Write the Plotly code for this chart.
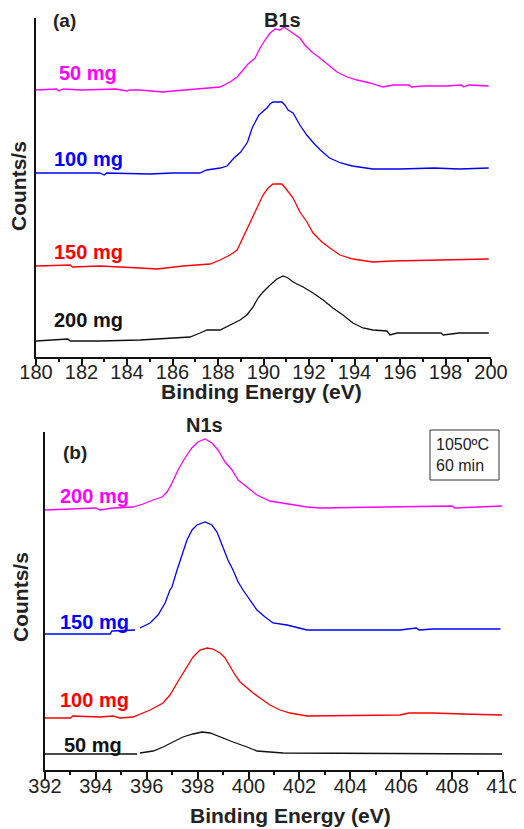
import plotly.graph_objects as go

W, H = 524, 829
OX, OY = 8, 8          # page body margin offset of the figure div
FW, FH = W - OX, H - OY

# ---------------- Panel (a): B1s ----------------
b_50_x = [180.0, 180.9, 181.0, 181.2, 182.0, 183.5, 184.0, 184.1, 184.57, 185.58, 186.02, 186.90, 187.52,
          188.09, 188.53, 188.84, 189.10, 189.32, 189.63, 189.85, 190.07, 190.29, 190.51, 190.73, 190.90,
          191.08, 191.30, 191.60, 191.82, 192.13, 192.48, 192.84, 193.23, 193.67, 194.11, 194.68, 195.25,
          195.69, 196.4, 196.5, 197.0, 198.0, 198.7, 198.8, 199.0, 199.9]
b_50_y = [267, 268, 266, 268, 267, 268, 266, 267, 267, 265, 266, 268, 269,
          270, 275, 280, 287, 293, 299, 309, 317, 324, 328, 327, 330,
          327, 324, 319, 312, 305, 299, 292, 285, 280, 277, 274, 270,
          272, 272, 270, 271, 271, 272, 270, 272, 271]

b_100_x = [180.0, 182.8, 183.0, 183.1, 185.0, 186.0, 187.2, 187.5, 188.1, 188.4, 188.7, 189.0, 189.3, 189.5,
           189.8, 190.15, 190.29, 190.42, 190.81, 190.94, 191.08, 191.3, 191.6, 191.9, 192.2, 192.5, 192.9,
           193.4, 193.9, 194.8, 196.0, 197.5, 198.6, 199.9]
b_100_y = [184, 184, 182, 184, 183, 184, 184, 187, 189, 191, 199, 205, 215, 229,
           242, 249, 253, 255, 255, 252, 247, 244, 232, 222, 214, 207, 199,
           194, 191, 188, 188, 189, 188, 189]

b_150_x = [180.0, 181.5, 181.6, 182.8, 184.57, 185.32, 186.46, 187.65, 188.09, 188.53, 188.84, 189.10,
           189.41, 189.71, 189.98, 190.20, 190.42, 190.81, 191.03, 191.30, 191.60, 191.91, 192.18, 192.57,
           192.92, 193.36, 193.93, 194.81, 195.69, 197.5, 199.9]
b_150_y = [91, 92, 90, 91, 89, 88, 91, 93, 97, 102, 107, 120,
           135, 149, 162, 169, 173, 173, 167, 159, 145, 135, 124, 115,
           109, 102, 98, 95, 96, 97, 98]

b_200_x = [180.0, 181.4, 181.5, 182.8, 184.57, 185.89, 186.77, 187.21, 187.52, 188.09, 188.53, 188.97,
           189.27, 189.54, 189.76, 189.98, 190.29, 190.59, 190.86, 191.08, 191.30, 191.74, 192.18, 192.62,
           193.05, 193.49, 193.93, 194.37, 194.81, 195.43, 195.56, 195.87, 197.8, 197.9, 198.6, 199.9]
b_200_y = [16, 18, 16, 16, 17, 19, 20, 24, 27, 27, 32, 37,
           42, 50, 59, 65, 72, 78, 81, 79, 75, 70, 64, 57,
           49, 42, 34, 29, 27, 26, 22, 24, 24, 22, 24, 24]

# ---------------- Panel (b): N1s ----------------
n_200_x = [392.0, 394.0, 394.16, 394.67, 395.46, 395.85, 396.25, 396.60, 396.80, 396.99, 397.23, 397.50,
           397.77, 398.01, 398.29, 398.56, 398.80, 399.08, 399.35, 399.59, 399.94, 400.33, 400.84, 401.51,
           402.30, 402.81, 406.0, 407.25, 408.0, 408.1, 409.96]
n_200_y = [260, 262, 260, 262, 263, 266, 270, 273, 278, 287, 300, 312,
           322, 328, 331, 327, 320, 308, 300, 290, 283, 275, 269, 266,
           263, 262, 263, 264, 264, 262, 264]

n_150_x = [392.0, 394.56, 394.63, 395.54, None, 395.73, 396.13, 396.44, 396.72, 396.91, 396.99, 397.19,
           397.39, 397.58, 397.78, 397.97, 398.29, 398.56, 398.76, 399.00, 399.19, 399.39, 399.59, 399.78,
           400.06, 400.33, 400.65, 400.96, 401.51, 402.02, 402.30, 403.32, 405.95, 406.6, 406.7, 407.25, 409.9]
n_150_y = [136, 136, 139, 140, None, 142, 147, 155, 167, 180, 183, 200,
           215, 230, 240, 245, 248, 245, 238, 223, 210, 200, 188, 180,
           170, 160, 153, 147, 145, 142, 140, 140, 140, 142, 140, 141, 141]

n_100_x = [392.0, 393.0, 393.1, 394.16, 394.67, 394.95, 395.46, 396.13, 396.64, 396.91, 397.19, 397.39,
           397.58, 397.82, 398.09, 398.37, 398.60, 398.88, 399.08, 399.27, 399.47, 399.67, 399.94, 400.18,
           400.45, 400.84, 401.24, 401.63, 402.30, 405.95, 406.3, 407.25, 408.4, 409.96]
n_100_y = [52, 52, 54, 53, 54, 52, 53, 60, 67, 75, 87, 95,
           103, 113, 120, 122, 121, 117, 112, 103, 95, 88, 82, 77,
           72, 65, 60, 57, 54, 55, 57, 57, 56, 55]

n_50_x = [392.0, 395.62, None, 395.73, 396.25, 396.64, 397.03, 397.42, 397.82, 398.17, 398.49, 398.88,
          399.39, 399.94, 400.33, 400.84, 401.36, 409.96]
n_50_y = [16, 16, None, 17, 19, 23, 28, 33, 36, 38, 37, 33,
          28, 23, 19, 18, 17, 16]

MAG, BLU, RED, BLK = "#ff00ff", "#0000ff", "#ff0000", "#111111"
FONT = "Liberation Sans, Arial, sans-serif"

fig = go.Figure()
for xs, ys, c in [(b_50_x, b_50_y, MAG), (b_100_x, b_100_y, BLU), (b_150_x, b_150_y, RED), (b_200_x, b_200_y, BLK)]:
    fig.add_trace(go.Scatter(x=xs, y=ys, mode="lines", line=dict(color=c, width=1.3),
                             xaxis="x", yaxis="y", showlegend=False, connectgaps=False))
for xs, ys, c in [(n_200_x, n_200_y, MAG), (n_150_x, n_150_y, BLU), (n_100_x, n_100_y, RED), (n_50_x, n_50_y, BLK)]:
    fig.add_trace(go.Scatter(x=xs, y=ys, mode="lines", line=dict(color=c, width=1.3),
                             xaxis="x2", yaxis="y2", showlegend=False, connectgaps=False))


def fx(p):
    return (p - OX) / FW


def fy(p):
    return 1 - (p - OY) / FH


xcommon = dict(showline=True, linecolor="#111111", linewidth=2, ticks="outside", tickcolor="#111111",
               tickwidth=1.5, showgrid=False, zeroline=False, dtick=2, automargin=False,
               ticklabelstandoff=-10,
               tickfont=dict(family=FONT, size=20, color="#222222"),
               minor=dict(dtick=1, ticks="outside", ticklen=3, tickcolor="#111111", tickwidth=1.5))
ycommon = dict(showline=True, linecolor="#111111", linewidth=2, ticks="", showticklabels=False,
               showgrid=False, zeroline=False, automargin=False)

fig.update_layout(
    width=FW, height=FH, margin=dict(l=0, r=0, t=0, b=0, autoexpand=False),
    paper_bgcolor="white", plot_bgcolor="white",
    xaxis=dict(domain=[fx(36), fx(491)], range=[180, 200], anchor="y", tick0=180, ticklen=6, **xcommon),
    yaxis=dict(domain=[fy(357), fy(18)], range=[0, 339], anchor="x", **ycommon),
    xaxis2=dict(domain=[fx(45), fx(503)], range=[392, 410], anchor="y2", tick0=392, ticklen=7, **xcommon),
    yaxis2=dict(domain=[fy(770), fy(432)], range=[0, 338], anchor="x2", **ycommon),
)


def ann(text, px, py, size, color="#222222", bold=True, xanchor="center", align="center", angle=0):
    t = f"<b>{text}</b>" if bold else text
    fig.add_annotation(text=t, x=fx(px), y=fy(py), xref="paper", yref="paper", textangle=angle,
                       xanchor=xanchor, yanchor="middle", showarrow=False, align=align,
                       font=dict(family=FONT, size=size, color=color))


# panel (a) texts
ann("(a)", 64, 21, 19)
ann("B1s", 282, 20, 20)
ann("50 mg", 88, 73, 20, MAG)
ann("100 mg", 88, 159, 20, BLU)
ann("150 mg", 88, 252, 20, RED)
ann("200 mg", 88, 320, 20, BLK)
ann("Binding Energy (eV)", 261, 391, 21)
ann("Counts/s", 18, 186, 21, angle=-90)

# panel (b) texts
ann("N1s", 204, 425, 20)
ann("(b)", 75, 452, 19)
ann("200 mg", 94, 496, 20, MAG)
ann("150 mg", 94, 622, 20, BLU)
ann("100 mg", 94, 700, 20, RED)
ann("50 mg", 93, 745, 20, BLK)
ann("Binding Energy (eV)", 290, 815, 21)
ann("Counts/s", 20, 597, 21, angle=-90)

# condition box
fig.add_shape(type="rect", xref="paper", yref="paper", x0=fx(430), x1=fx(499), y0=fy(480), y1=fy(430),
              line=dict(color="#333333", width=1), fillcolor="rgba(0,0,0,0)")
ann("1050ºC<br>60 min", 434, 455, 16, "#222222", bold=False, xanchor="left", align="left")

fig.write_html("out.html")
